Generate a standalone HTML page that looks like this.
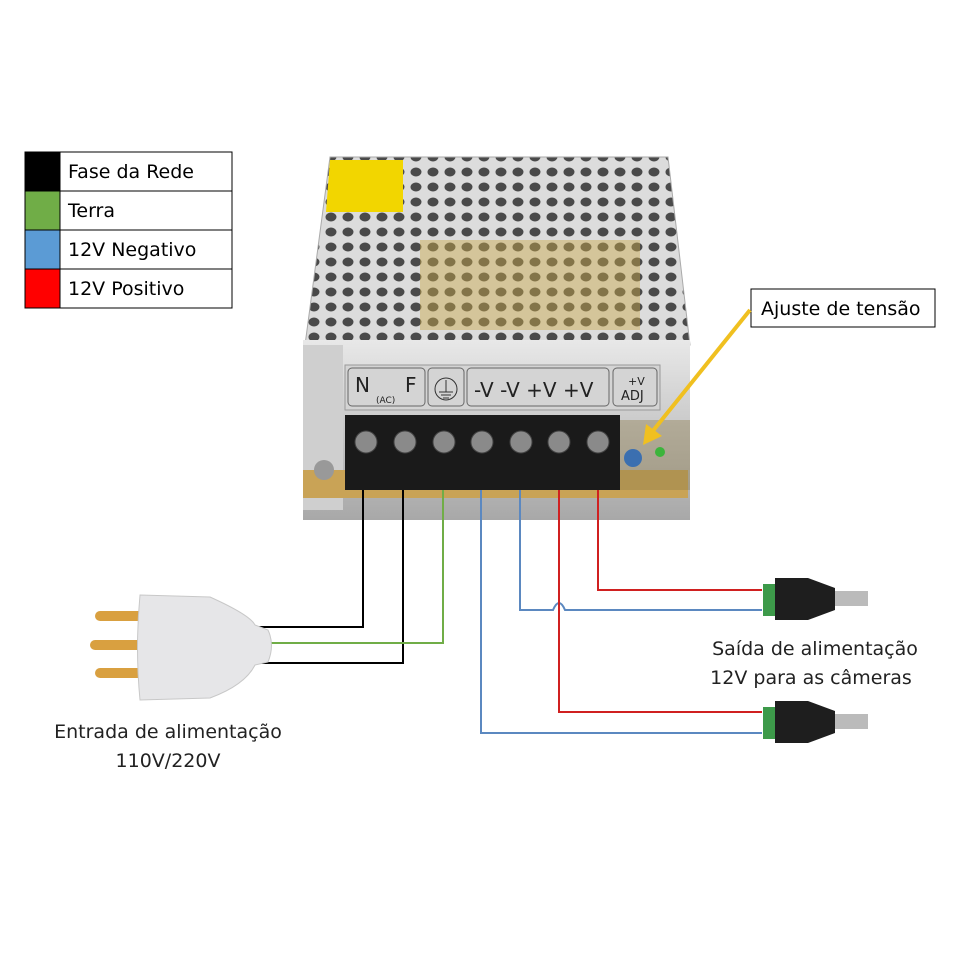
<!DOCTYPE html>
<html><head><meta charset="utf-8"><style>
body{margin:0;background:#fff}
svg{display:block}
text{font-family:"DejaVu Sans","Liberation Sans",sans-serif}
</style></head><body>
<svg width="960" height="960" viewBox="0 0 960 960">
<defs>
<pattern id="holes" width="17" height="15" patternUnits="userSpaceOnUse">
<rect width="17" height="15" fill="#dcdcdc"/>
<ellipse cx="8" cy="7" rx="5.5" ry="4.5" fill="#4a4a4a"/>
</pattern>
<linearGradient id="face" x1="0" y1="0" x2="0" y2="1"><stop offset="0" stop-color="#e8e8e8"/><stop offset="1" stop-color="#a8a8a8"/></linearGradient>
</defs>
<g stroke="#000" stroke-width="1">
<rect x="25" y="152" width="35" height="39" fill="#000"/>
<rect x="25" y="191" width="35" height="39" fill="#70ad47"/>
<rect x="25" y="230" width="35" height="39" fill="#5b9bd5"/>
<rect x="25" y="269" width="35" height="39" fill="#ff0000"/>
<rect x="60" y="152" width="172" height="39" fill="#fff"/>
<rect x="60" y="191" width="172" height="39" fill="#fff"/>
<rect x="60" y="230" width="172" height="39" fill="#fff"/>
<rect x="60" y="269" width="172" height="39" fill="#fff"/>
</g>
<g font-size="19" fill="#000">
<text x="68" y="178">Fase da Rede</text>
<text x="68" y="217">Terra</text>
<text x="68" y="256">12V Negativo</text>
<text x="68" y="295">12V Positivo</text>
</g>
<polygon points="668,157 690,345 690,515 668,330" fill="#b8b8b8"/>
<polygon points="330,157 668,157 690,345 305,345" fill="url(#holes)" stroke="#aaa"/>
<rect x="420" y="240" width="220" height="90" fill="#c9a84a" opacity="0.45"/>
<polygon points="330,160 403,160 403,212 326,212" fill="#f2d600"/>
<rect x="303" y="340" width="387" height="180" fill="url(#face)"/>
<rect x="303" y="345" width="40" height="165" fill="#cfcfcf"/>
<rect x="345" y="365" width="315" height="45" fill="#d4d4d4" stroke="#999"/>
<g fill="none" stroke="#666"><rect x="348" y="368" width="77" height="38" rx="4"/><rect x="428" y="368" width="36" height="38" rx="4"/><rect x="467" y="368" width="142" height="38" rx="4"/><rect x="613" y="368" width="44" height="38" rx="4"/></g>
<g font-family="Liberation Sans,sans-serif" fill="#222">
<text x="355" y="392" font-size="20">N</text><text x="405" y="392" font-size="20">F</text>
<text x="376" y="403" font-size="9">(AC)</text>
<circle cx="446" cy="389" r="11" fill="none" stroke="#333"/>
<path d="M446 380 V392 M439 392 H453 M441 395 H451 M443 398 H449" stroke="#333" fill="none"/>
<text x="474" y="397" font-size="20">-V -V +V +V</text>
<text x="628" y="385" font-size="11">+V</text><text x="621" y="400" font-size="13">ADJ</text>
</g>
<rect x="303" y="470" width="385" height="28" fill="#c9a356"/>
<rect x="345" y="415" width="275" height="75" fill="#1a1a1a"/>
<g fill="#8a8a8a" stroke="#444">
<circle cx="366" cy="442" r="11"/><circle cx="405" cy="442" r="11"/><circle cx="444" cy="442" r="11"/><circle cx="482" cy="442" r="11"/><circle cx="521" cy="442" r="11"/><circle cx="559" cy="442" r="11"/><circle cx="598" cy="442" r="11"/>
</g>
<circle cx="324" cy="470" r="10" fill="#999"/>
<rect x="620" y="420" width="70" height="70" fill="#8b7a4a" opacity="0.4"/>
<circle cx="633" cy="458" r="9" fill="#3b6fb0"/>
<circle cx="660" cy="452" r="5" fill="#3cb43c"/>
<g fill="none" stroke-width="2">
<path d="M363 490 V627 H255" stroke="#000"/>
<path d="M403 490 V663 H255" stroke="#000"/>
<path d="M443 490 V643 H255" stroke="#70ad47"/>
<path d="M481 490 V733 H762" stroke="#5b88c0"/>
<path d="M520 490 V610 H553 Q559 596 565 610 H762" stroke="#5b88c0"/>
<path d="M559 490 V712 H762" stroke="#d02020"/>
<path d="M598 490 V590 H762" stroke="#d02020"/>
</g>
<g fill="#d9a040">
<rect x="95" y="611" width="55" height="10" rx="5"/><rect x="90" y="640" width="60" height="10" rx="5"/><rect x="95" y="668" width="55" height="10" rx="5"/>
</g>
<path d="M140 595 L210 597 Q250 615 255 625 L268 630 Q275 645 268 662 L255 665 Q245 685 210 698 L140 700 Q135 648 140 595Z" fill="#e6e6e8" stroke="#c8c8c8"/>
<g>
<rect x="763" y="584" width="12" height="32" fill="#3d9a4a"/>
<path d="M775 578 H808 L835 588 V610 L808 620 H775Z" fill="#1e1e1e"/>
<rect x="835" y="591" width="33" height="15" fill="#bbb"/>
<rect x="763" y="707" width="12" height="32" fill="#3d9a4a"/>
<path d="M775 701 H808 L835 711 V733 L808 743 H775Z" fill="#1e1e1e"/>
<rect x="835" y="714" width="33" height="15" fill="#bbb"/>
</g>
<rect x="751" y="289" width="184" height="38" fill="#fff" stroke="#000"/>
<text x="761" y="315" font-size="19">Ajuste de tensão</text>
<line x1="750" y1="310" x2="652" y2="432" stroke="#f0c020" stroke-width="4"/>
<polygon points="643,445 646,424 662,436" fill="#f0c020"/>
<g font-size="19" fill="#222" text-anchor="middle">
<text x="168" y="738">Entrada de alimentação</text>
<text x="168" y="767">110V/220V</text>
<text x="815" y="655">Saída de alimentação</text>
<text x="811" y="684">12V para as câmeras</text>
</g>
</svg>
</body></html>
